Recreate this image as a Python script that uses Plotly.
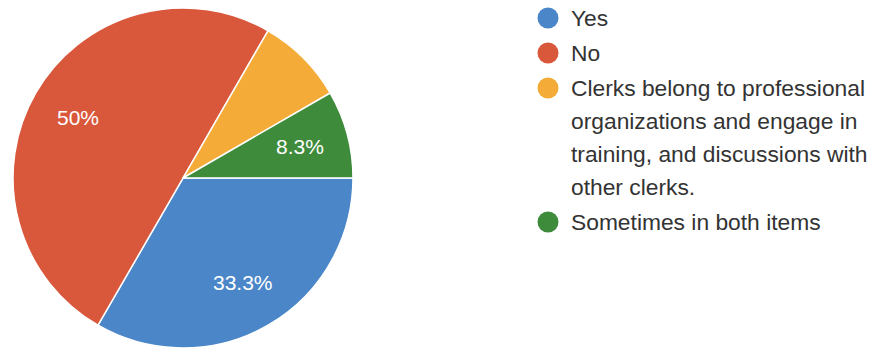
import math
import plotly.graph_objects as go

# Survey responses
legend_lines = [
    ["Yes"],
    ["No"],
    ["Clerks belong to professional",
     "organizations and engage in",
     "training, and discussions with",
     "other clerks."],
    ["Sometimes in both items"],
]
categories = [" ".join(lines) for lines in legend_lines]
counts = [4, 6, 1, 1]
colors = ["#4a86c8", "#d9573b", "#f5ab37", "#3e8b3c"]
label_shown = [True, True, False, True]

W, H = 872, 349

# Pie placement (pixels)
cx, cy, r = 183, 178, 170
label_radius = 0.71
start_deg = 90  # first slice starts at 3 o'clock, runs clockwise

font_family = "Liberation Sans, Arial, Helvetica, sans-serif"

fig = go.Figure()
fig.add_trace(go.Pie(
    labels=categories,
    values=counts,
    sort=False,
    direction="clockwise",
    rotation=start_deg,
    marker=dict(colors=colors, line=dict(color="white", width=1.5)),
    textinfo="none",
    hoverinfo="label+percent",
    showlegend=False,
    domain=dict(x=[(cx - r) / W, (cx + r) / W],
                y=[1 - (cy + r) / H, 1 - (cy - r) / H]),
))

annotations = []
shapes = []

# Percentage labels at each slice's mid-angle
total = sum(counts)
angle = start_deg
for v, show in zip(counts, label_shown):
    sweep = 360.0 * v / total
    mid = math.radians(angle + sweep / 2)
    angle += sweep
    if not show:
        continue
    pct = 100.0 * v / total
    txt = f"{pct:.1f}".rstrip("0").rstrip(".") + "%"
    px = cx + label_radius * r * math.sin(mid)
    py = cy - label_radius * r * math.cos(mid)
    annotations.append(dict(
        x=px / W, y=1 - py / H, xref="paper", yref="paper",
        text=txt, showarrow=False, xanchor="center", yanchor="middle",
        font=dict(family=font_family, size=21, color="white"),
    ))

# Legend with round swatches
marker_x, text_x = 548, 569
line_step, item_gap = 33, 2
y = 18
for lines, col in zip(legend_lines, colors):
    shapes.append(dict(
        type="circle", xref="paper", yref="paper",
        xsizemode="pixel", ysizemode="pixel",
        xanchor=marker_x / W, yanchor=1 - y / H,
        x0=-10.5, x1=10.5, y0=-10.5, y1=10.5,
        fillcolor=col, line=dict(width=0),
    ))
    for i, line in enumerate(lines):
        annotations.append(dict(
            x=text_x / W, y=1 - y / H, xref="paper", yref="paper",
            text=line, showarrow=False, xanchor="left", yanchor="middle",
            font=dict(family=font_family, size=22.8, color="#333333"),
        ))
        if i < len(lines) - 1:
            y += line_step
    y += line_step + item_gap

fig.update_layout(
    width=W, height=H,
    margin=dict(l=0, r=0, t=0, b=0),
    paper_bgcolor="white",
    plot_bgcolor="white",
    annotations=annotations,
    shapes=shapes,
)

fig.write_html("out.html")
